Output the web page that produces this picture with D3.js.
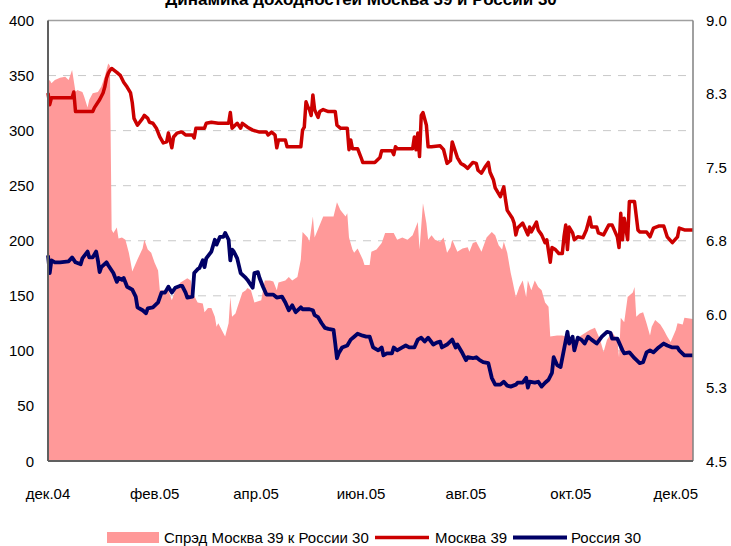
<!DOCTYPE html>
<html lang="ru">
<head>
<meta charset="utf-8">
<title>Динамика доходностей Москва 39 и России 30</title>
<script src="https://d3js.org/d3.v7.min.js"></script>
<style>
  body { margin: 0; background: #fff; }
  svg text { font-family: "Liberation Sans", Arial, sans-serif; font-size: 15px; fill: #000; }
  .title { font-weight: bold; font-size: 17px; }
</style>
</head>
<body>
<svg id="chart" width="731" height="546"></svg>
<script>
// spread, bp (left axis)
const spread = [
  ["2004-12-01",344],["2004-12-02",346],["2004-12-03",343],["2004-12-05",346],["2004-12-08",348],
  ["2004-12-11",349],["2004-12-13",346],["2004-12-15",355],["2004-12-17",335],["2004-12-18",337],
  ["2004-12-21",335],["2004-12-22",331],["2004-12-24",321],["2004-12-25",328],["2004-12-27",334],
  ["2004-12-30",335],["2005-01-01",340],["2005-01-03",349],["2005-01-04",355],["2005-01-05",361],
  ["2005-01-06",359],["2005-01-07",210],["2005-01-08",207],["2005-01-10",212],["2005-01-11",202],
  ["2005-01-13",203],["2005-01-15",201],["2005-01-17",189],["2005-01-18",181],["2005-01-19",172],
  ["2005-01-22",183],["2005-01-25",193],["2005-01-26",201],["2005-01-28",192],["2005-01-30",189],
  ["2005-02-01",180],["2005-02-03",173],["2005-02-04",155],["2005-02-09",155],["2005-02-11",146],
  ["2005-02-13",155],["2005-02-16",162],["2005-02-17",163],["2005-02-20",166],["2005-02-22",164],
  ["2005-02-23",153],["2005-02-26",144],["2005-03-01",143],["2005-03-02",135],["2005-03-04",139],
  ["2005-03-06",139],["2005-03-08",131],["2005-03-09",122],["2005-03-10",125],["2005-03-12",119],
  ["2005-03-14",113],["2005-03-16",125],["2005-03-17",149],["2005-03-18",131],["2005-03-20",134],
  ["2005-03-21",139],["2005-03-24",153],["2005-03-26",155],["2005-03-27",157],["2005-03-29",155],
  ["2005-03-31",144],["2005-04-04",146],["2005-04-06",164],["2005-04-09",164],["2005-04-11",163],
  ["2005-04-13",155],["2005-04-14",162],["2005-04-18",164],["2005-04-20",167],["2005-04-22",164],
  ["2005-04-25",167],["2005-04-27",183],["2005-04-28",208],["2005-05-01",203],["2005-05-02",199],
  ["2005-05-04",222],["2005-05-05",203],["2005-05-10",222],["2005-05-16",222],["2005-05-18",235],
  ["2005-05-20",228],["2005-05-23",222],["2005-05-24",225],["2005-05-25",203],["2005-05-27",192],
  ["2005-05-28",189],["2005-05-30",193],["2005-06-02",183],["2005-06-03",178],["2005-06-06",178],
  ["2005-06-07",190],["2005-06-10",192],["2005-06-13",198],["2005-06-15",207],["2005-06-20",207],
  ["2005-06-22",201],["2005-06-25",203],["2005-06-28",201],["2005-07-01",205],["2005-07-04",217],
  ["2005-07-05",192],["2005-07-07",234],["2005-07-09",216],["2005-07-10",201],["2005-07-12",205],
  ["2005-07-14",201],["2005-07-17",199],["2005-07-19",203],["2005-07-21",189],["2005-07-23",194],
  ["2005-07-24",201],["2005-07-27",190],["2005-07-30",193],["2005-08-02",194],["2005-08-03",190],
  ["2005-08-05",198],["2005-08-07",199],["2005-08-10",190],["2005-08-13",203],["2005-08-16",208],
  ["2005-08-18",205],["2005-08-20",196],["2005-08-22",192],["2005-08-23",199],["2005-08-25",189],
  ["2005-08-27",171],["2005-08-28",164],["2005-08-30",149],["2005-09-01",158],["2005-09-03",164],
  ["2005-09-05",149],["2005-09-06",164],["2005-09-08",155],["2005-09-10",164],["2005-09-12",158],
  ["2005-09-14",155],["2005-09-16",144],["2005-09-18",140],["2005-09-19",113],["2005-09-23",114],
  ["2005-09-26",114],["2005-09-28",113],["2005-10-02",108],["2005-10-05",112],["2005-10-09",116],
  ["2005-10-12",119],["2005-10-15",121],["2005-10-18",110],["2005-10-20",99],["2005-10-22",110],
  ["2005-10-25",117],["2005-10-28",110],["2005-10-29",94],["2005-10-30",130],["2005-11-01",126],
  ["2005-11-03",149],["2005-11-06",153],["2005-11-07",158],["2005-11-08",131],["2005-11-10",134],
  ["2005-11-12",135],["2005-11-14",125],["2005-11-16",114],["2005-11-17",122],["2005-11-19",128],
  ["2005-11-22",124],["2005-11-24",119],["2005-11-26",113],["2005-11-28",108],["2005-12-01",119],
  ["2005-12-02",125],["2005-12-05",124],["2005-12-06",130],["2005-12-11",129]
];

// Москва 39 yield, % (right axis)
const moscow = [
  ["2004-12-01",8.26],["2004-12-02",8.14],["2004-12-03",8.21],["2004-12-15",8.21],["2004-12-16",8.27],
  ["2004-12-17",8.07],["2004-12-27",8.07],["2004-12-28",8.11],["2004-12-31",8.19],["2005-01-02",8.26],
  ["2005-01-03",8.32],["2005-01-04",8.41],["2005-01-05",8.46],["2005-01-06",8.49],["2005-01-07",8.51],
  ["2005-01-10",8.47],["2005-01-12",8.44],["2005-01-14",8.37],["2005-01-16",8.32],["2005-01-18",8.26],
  ["2005-01-19",8.16],["2005-01-20",8.00],["2005-01-22",7.93],["2005-01-25",8.00],["2005-01-26",8.03],
  ["2005-01-28",8.00],["2005-01-29",7.96],["2005-01-31",7.95],["2005-02-02",7.90],["2005-02-04",7.81],
  ["2005-02-06",7.75],["2005-02-08",7.76],["2005-02-09",7.85],["2005-02-11",7.70],["2005-02-12",7.81],
  ["2005-02-14",7.85],["2005-02-16",7.86],["2005-02-17",7.86],["2005-02-19",7.83],["2005-02-23",7.83],
  ["2005-02-24",7.80],["2005-02-25",7.90],["2005-03-02",7.90],["2005-03-03",7.95],["2005-03-06",7.96],
  ["2005-03-10",7.95],["2005-03-16",7.95],["2005-03-17",8.06],["2005-03-18",7.90],["2005-03-21",7.95],
  ["2005-03-23",7.90],["2005-03-24",7.95],["2005-03-27",7.91],["2005-03-30",7.88],["2005-04-03",7.86],
  ["2005-04-07",7.86],["2005-04-08",7.83],["2005-04-10",7.86],["2005-04-12",7.83],["2005-04-13",7.70],
  ["2005-04-14",7.78],["2005-04-18",7.78],["2005-04-19",7.71],["2005-04-27",7.71],["2005-04-28",7.88],
  ["2005-04-29",7.91],["2005-04-30",8.17],["2005-05-01",8.12],["2005-05-02",8.09],["2005-05-03",8.03],
  ["2005-05-04",8.24],["2005-05-05",8.09],["2005-05-07",8.01],["2005-05-08",8.07],["2005-05-10",8.09],
  ["2005-05-13",8.07],["2005-05-17",8.07],["2005-05-18",7.93],["2005-05-20",7.90],["2005-05-24",7.90],
  ["2005-05-25",7.68],["2005-05-26",7.78],["2005-05-27",7.69],["2005-05-30",7.69],["2005-06-01",7.60],
  ["2005-06-02",7.55],["2005-06-09",7.55],["2005-06-12",7.60],["2005-06-13",7.67],["2005-06-19",7.67],
  ["2005-06-20",7.63],["2005-06-21",7.71],["2005-06-22",7.69],["2005-07-01",7.69],["2005-07-02",7.81],
  ["2005-07-03",7.68],["2005-07-04",7.85],["2005-07-05",7.61],["2005-07-06",8.03],["2005-07-07",8.06],
  ["2005-07-09",7.93],["2005-07-10",7.71],["2005-07-12",7.71],["2005-07-17",7.72],["2005-07-19",7.68],
  ["2005-07-21",7.54],["2005-07-23",7.57],["2005-07-24",7.76],["2005-07-27",7.60],["2005-07-29",7.54],
  ["2005-07-31",7.52],["2005-08-02",7.49],["2005-08-05",7.55],["2005-08-07",7.54],["2005-08-08",7.47],
  ["2005-08-10",7.44],["2005-08-12",7.50],["2005-08-14",7.55],["2005-08-15",7.45],["2005-08-17",7.37],
  ["2005-08-18",7.29],["2005-08-21",7.20],["2005-08-23",7.30],["2005-08-24",7.17],["2005-08-25",7.06],
  ["2005-08-28",6.98],["2005-08-29",6.93],["2005-08-30",6.81],["2005-08-31",6.88],["2005-09-03",6.93],
  ["2005-09-04",6.89],["2005-09-06",6.81],["2005-09-07",6.89],["2005-09-08",6.84],["2005-09-11",6.94],
  ["2005-09-12",6.86],["2005-09-14",6.81],["2005-09-16",6.73],["2005-09-17",6.76],["2005-09-19",6.53],
  ["2005-09-20",6.68],["2005-09-22",6.66],["2005-09-24",6.62],["2005-09-26",6.62],["2005-09-27",6.79],
  ["2005-09-28",6.91],["2005-09-29",6.66],["2005-09-30",6.89],["2005-10-02",6.83],["2005-10-03",6.76],
  ["2005-10-05",6.79],["2005-10-08",6.78],["2005-10-10",6.86],["2005-10-12",6.99],["2005-10-13",6.89],
  ["2005-10-16",6.89],["2005-10-17",6.83],["2005-10-20",6.81],["2005-10-23",6.91],["2005-10-25",6.91],
  ["2005-10-28",6.79],["2005-10-29",6.68],["2005-10-30",7.03],["2005-10-31",6.76],["2005-11-01",6.98],
  ["2005-11-03",6.76],["2005-11-04",7.15],["2005-11-07",7.15],["2005-11-09",6.86],["2005-11-10",6.84],
  ["2005-11-14",6.84],["2005-11-16",6.79],["2005-11-18",6.88],["2005-11-21",6.90],["2005-11-24",6.90],
  ["2005-11-26",6.79],["2005-11-29",6.73],["2005-12-02",6.79],["2005-12-03",6.88],["2005-12-06",6.86],
  ["2005-12-11",6.86]
];

// Россия 30 yield, % (right axis)
const russia = [
  ["2004-12-01",6.60],["2004-12-02",6.42],["2004-12-03",6.55],["2004-12-05",6.53],["2004-12-08",6.53],
  ["2004-12-13",6.54],["2004-12-15",6.58],["2004-12-17",6.53],["2004-12-20",6.51],["2004-12-21",6.57],
  ["2004-12-24",6.64],["2004-12-25",6.58],["2004-12-27",6.58],["2004-12-29",6.64],["2004-12-30",6.55],
  ["2004-12-31",6.43],["2005-01-01",6.48],["2005-01-04",6.53],["2005-01-05",6.50],["2005-01-08",6.42],
  ["2005-01-10",6.33],["2005-01-11",6.37],["2005-01-13",6.35],["2005-01-14",6.37],["2005-01-16",6.28],
  ["2005-01-19",6.25],["2005-01-21",6.18],["2005-01-22",6.07],["2005-01-25",6.04],["2005-01-27",6.01],
  ["2005-01-28",6.06],["2005-01-31",6.07],["2005-02-03",6.12],["2005-02-05",6.22],["2005-02-07",6.22],
  ["2005-02-09",6.28],["2005-02-11",6.22],["2005-02-13",6.27],["2005-02-16",6.29],["2005-02-17",6.29],
  ["2005-02-19",6.22],["2005-02-20",6.17],["2005-02-23",6.18],["2005-02-24",6.42],["2005-02-26",6.46],
  ["2005-02-27",6.47],["2005-03-01",6.55],["2005-03-02",6.48],["2005-03-03",6.57],["2005-03-06",6.64],
  ["2005-03-08",6.76],["2005-03-09",6.71],["2005-03-11",6.79],["2005-03-13",6.79],["2005-03-14",6.83],
  ["2005-03-16",6.76],["2005-03-17",6.55],["2005-03-18",6.66],["2005-03-19",6.64],["2005-03-21",6.57],
  ["2005-03-23",6.42],["2005-03-26",6.37],["2005-03-27",6.35],["2005-03-30",6.27],["2005-03-31",6.42],
  ["2005-04-02",6.43],["2005-04-03",6.37],["2005-04-05",6.28],["2005-04-07",6.20],["2005-04-11",6.20],
  ["2005-04-13",6.17],["2005-04-16",6.18],["2005-04-18",6.12],["2005-04-20",6.04],["2005-04-22",6.09],
  ["2005-04-24",6.02],["2005-04-27",6.07],["2005-04-28",6.05],["2005-05-02",6.05],["2005-05-04",6.04],
  ["2005-05-05",5.99],["2005-05-07",5.97],["2005-05-09",5.91],["2005-05-11",5.86],["2005-05-13",5.85],
  ["2005-05-16",5.84],["2005-05-17",5.70],["2005-05-18",5.55],["2005-05-19",5.60],["2005-05-21",5.66],
  ["2005-05-24",5.68],["2005-05-26",5.74],["2005-05-28",5.77],["2005-05-30",5.80],["2005-06-02",5.78],
  ["2005-06-04",5.77],["2005-06-06",5.77],["2005-06-08",5.66],["2005-06-11",5.63],["2005-06-13",5.66],
  ["2005-06-14",5.58],["2005-06-16",5.60],["2005-06-19",5.60],["2005-06-20",5.66],["2005-06-22",5.63],
  ["2005-06-25",5.66],["2005-06-27",5.68],["2005-06-29",5.66],["2005-07-02",5.66],["2005-07-04",5.74],
  ["2005-07-06",5.76],["2005-07-08",5.72],["2005-07-10",5.76],["2005-07-13",5.69],["2005-07-15",5.71],
  ["2005-07-17",5.72],["2005-07-18",5.66],["2005-07-21",5.69],["2005-07-24",5.74],["2005-07-26",5.66],
  ["2005-07-27",5.69],["2005-07-30",5.60],["2005-08-01",5.53],["2005-08-02",5.56],["2005-08-05",5.55],
  ["2005-08-07",5.56],["2005-08-09",5.53],["2005-08-11",5.51],["2005-08-14",5.50],["2005-08-16",5.35],
  ["2005-08-18",5.28],["2005-08-21",5.28],["2005-08-23",5.31],["2005-08-25",5.27],["2005-08-27",5.26],
  ["2005-08-30",5.28],["2005-08-31",5.30],["2005-09-03",5.30],["2005-09-05",5.35],["2005-09-06",5.25],
  ["2005-09-07",5.31],["2005-09-10",5.30],["2005-09-12",5.31],["2005-09-14",5.26],["2005-09-16",5.30],
  ["2005-09-18",5.33],["2005-09-20",5.40],["2005-09-21",5.56],["2005-09-23",5.48],["2005-09-25",5.46],
  ["2005-09-26",5.55],["2005-09-28",5.73],["2005-09-29",5.82],["2005-09-30",5.70],["2005-10-02",5.77],
  ["2005-10-03",5.63],["2005-10-05",5.76],["2005-10-07",5.74],["2005-10-09",5.70],["2005-10-11",5.77],
  ["2005-10-13",5.74],["2005-10-16",5.70],["2005-10-19",5.77],["2005-10-22",5.82],["2005-10-24",5.81],
  ["2005-10-25",5.75],["2005-10-28",5.75],["2005-10-31",5.63],["2005-11-01",5.60],["2005-11-04",5.61],
  ["2005-11-07",5.55],["2005-11-10",5.50],["2005-11-12",5.51],["2005-11-14",5.61],["2005-11-16",5.63],
  ["2005-11-18",5.61],["2005-11-21",5.66],["2005-11-24",5.70],["2005-11-26",5.68],["2005-11-29",5.66],
  ["2005-12-02",5.66],["2005-12-03",5.63],["2005-12-06",5.58],["2005-12-11",5.58]
];

const leftTicks = [0, 50, 100, 150, 200, 250, 300, 350, 400];
const rightTicks = [4.5, 5.25, 6, 6.75, 7.5, 8.25, 9];
const rightLabels = ["4.5", "5.3", "6.0", "6.8", "7.5", "8.3", "9.0"];
const monthTicks = ["2004-12-01", "2005-02-01", "2005-04-01", "2005-06-01", "2005-08-01", "2005-10-01", "2005-12-01"];
const monthLabels = ["дек.04", "фев.05", "апр.05", "июн.05", "авг.05", "окт.05", "дек.05"];
const seriesNames = ["Спрэд Москва 39 к России 30", "Москва 39", "Россия 30"];
const dateRange = ["2004-12-01", "2005-12-11"];

// DIMENSIONS
const margin = { top: 20.5, right: 38, bottom: 85, left: 48 };
const width = 731, height = 546;
const svg = d3.select('#chart');
const parse = d3.timeParse('%Y-%m-%d');

const x = d3.scaleTime()
  .domain(dateRange.map(parse))
  .range([margin.left, width - margin.right]);
const yL = d3.scaleLinear().domain([0, 400]).range([height - margin.bottom, margin.top]);
const yR = d3.scaleLinear().domain([4.5, 9]).range([height - margin.bottom, margin.top]);

const colors = { spread: '#ff9999', moscow: '#cc0000', russia: '#000066' };

// gridlines (behind the area)
svg.append('g')
  .selectAll('line')
  .data(leftTicks.slice(1, -1))
  .join('line')
  .attr('x1', margin.left).attr('x2', width - margin.right)
  .attr('y1', d => yL(d)).attr('y2', d => yL(d))
  .attr('stroke', '#c8c8c8').attr('stroke-width', 1)
  .attr('stroke-dasharray', '8,7');

// spread area
const area = d3.area()
  .x(d => x(parse(d[0])))
  .y0(yL(0))
  .y1(d => yL(d[1]));
svg.append('path').datum(spread)
  .attr('d', area)
  .attr('fill', colors.spread);

// yield lines
const line = d3.line()
  .x(d => x(parse(d[0])))
  .y(d => yR(d[1]));
svg.append('path').datum(moscow)
  .attr('d', line).attr('fill', 'none')
  .attr('stroke', colors.moscow).attr('stroke-width', 3.5)
  .attr('stroke-linejoin', 'round');
svg.append('path').datum(russia)
  .attr('d', line).attr('fill', 'none')
  .attr('stroke', colors.russia).attr('stroke-width', 3.8)
  .attr('stroke-linejoin', 'round');

// frame
const x0 = margin.left, x1 = width - margin.right, y0 = margin.top, y1 = height - margin.bottom;
svg.append('line').attr('x1', x0).attr('x2', x1).attr('y1', y0).attr('y2', y0).attr('stroke', '#a0a0a0').attr('stroke-width', 1.5);
svg.append('line').attr('x1', x1).attr('x2', x1).attr('y1', y0).attr('y2', y1).attr('stroke', '#808080').attr('stroke-width', 1.5);
svg.append('line').attr('x1', x0).attr('x2', x0).attr('y1', y0).attr('y2', y1).attr('stroke', '#606060').attr('stroke-width', 2);
svg.append('line').attr('x1', x0).attr('x2', x1).attr('y1', y1).attr('y2', y1).attr('stroke', '#606060').attr('stroke-width', 2);

// AXES LABELS
svg.append('g').selectAll('text')
  .data(leftTicks)
  .join('text')
  .attr('x', 34).attr('y', d => yL(d) + 5.5)
  .attr('text-anchor', 'end')
  .text(d => d);

svg.append('g').selectAll('text')
  .data(rightTicks)
  .join('text')
  .attr('x', 706).attr('y', d => yR(d) + 5.5)
  .text((d, i) => rightLabels[i]);

svg.append('g').selectAll('text')
  .data(monthTicks)
  .join('text')
  .attr('x', d => x(parse(d)))
  .attr('y', 499)
  .attr('text-anchor', 'middle')
  .text((d, i) => monthLabels[i]);

// TITLE (cut off at the top edge, as in the original)
svg.append('text')
  .attr('class', 'title')
  .attr('x', 361).attr('y', 5)
  .attr('text-anchor', 'middle')
  .text('Динамика доходностей Москва 39 и России 30');

// LEGEND
const legend = svg.append('g');
legend.append('rect')
  .attr('x', 107).attr('y', 532).attr('width', 52).attr('height', 11)
  .attr('fill', colors.spread);
legend.append('text').attr('x', 164).attr('y', 543).text(seriesNames[0]);
legend.append('line')
  .attr('x1', 375).attr('x2', 429).attr('y1', 537.5).attr('y2', 537.5)
  .attr('stroke', colors.moscow).attr('stroke-width', 3.5);
legend.append('text').attr('x', 435).attr('y', 543).text(seriesNames[1]);
legend.append('line')
  .attr('x1', 513).attr('x2', 567).attr('y1', 537.5).attr('y2', 537.5)
  .attr('stroke', colors.russia).attr('stroke-width', 3.8);
legend.append('text').attr('x', 571).attr('y', 543).text(seriesNames[2]);
</script>
</body>
</html>
